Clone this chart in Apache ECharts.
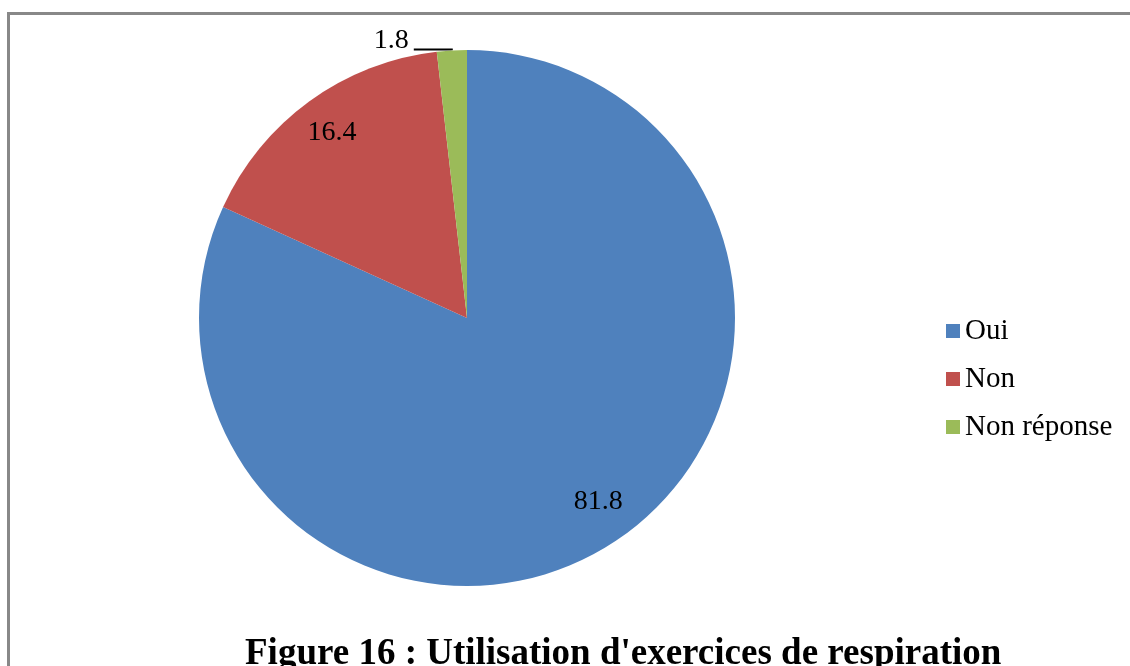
<!doctype html>
<html>
<head>
    <meta charset="utf-8">
    <title>Figure 16</title>
    <script src="https://cdn.jsdelivr.net/npm/echarts@6/dist/echarts.min.js"></script>
    <style>
        html, body {
            margin: 0;
            padding: 0;
            background: #ffffff;
        }

        #chart {
            width: 1130px;
            height: 666px;
        }
    </style>
</head>
<body>
    <div id="chart"></div>

    <script type="text/javascript">
        // données
        var categories = ['Oui', 'Non', 'Non réponse'];
        var values = [81.8, 16.4, 1.8];
        var colors = ['#4F81BD', '#C0504D', '#9BBB59'];
        var titleText = "Figure 16 : Utilisation d'exercices de respiration";

        var serif = '"Liberation Serif", "Times New Roman", serif';

        var pieData = categories.map(function(name, i) {
            return {
                name: name,
                value: values[i],
                itemStyle: { color: colors[i] }
            };
        });

        // anneau transparent, seulement pour placer les étiquettes
        var labelData = categories.map(function(name, i) {
            var item = {
                name: name,
                value: values[i]
            };
            if (i == 0) {
                item.label = { offset: [7, -9] };
            }
            if (i == 2) {
                // ligne vide en dessous pour remonter le texte au-dessus du trait
                item.label = {
                    position: 'outside',
                    formatter: '{c}\n ',
                    lineHeight: 18
                };
                item.labelLine = {
                    show: true,
                    length: 1,
                    length2: 38,
                    lineStyle: { color: '#000', width: 2 }
                };
            }
            return item;
        });

        var myChart = echarts.init(document.getElementById('chart'));

        var option = {
            backgroundColor: '#ffffff',
            animation: false,
            title: {
                text: titleText,
                left: 245,
                top: 636,
                padding: 0,
                textStyle: {
                    fontFamily: serif,
                    fontSize: 37,
                    fontWeight: 'bold',
                    color: '#000'
                }
            },
            legend: {
                orient: 'vertical',
                left: 946,
                top: 316,
                padding: 0,
                icon: 'rect',
                itemWidth: 14,
                itemHeight: 14,
                itemGap: 18,
                data: categories,
                textStyle: {
                    fontFamily: serif,
                    fontSize: 29,
                    lineHeight: 30,
                    color: '#000'
                }
            },
            graphic: [{
                type: 'rect',
                silent: true,
                shape: { x: 8.5, y: 13.5, width: 1400, height: 900 },
                style: { fill: 'none', stroke: '#888888', lineWidth: 3 }
            }],
            series: [{
                name: 'parts',
                type: 'pie',
                center: [467, 318],
                radius: [0, 268],
                startAngle: 90,
                clockwise: true,
                label: { show: false },
                labelLine: { show: false },
                itemStyle: { borderWidth: 0 },
                emphasis: { disabled: true },
                data: pieData
            }, {
                name: 'etiquettes',
                type: 'pie',
                silent: true,
                center: [467, 318],
                radius: [185, 268],
                startAngle: 90,
                clockwise: true,
                avoidLabelOverlap: false,
                itemStyle: { color: 'rgba(0,0,0,0)', borderWidth: 0 },
                label: {
                    show: true,
                    position: 'inside',
                    formatter: '{c}',
                    fontFamily: serif,
                    fontSize: 28,
                    color: '#000'
                },
                labelLine: { show: false },
                emphasis: { disabled: true },
                data: labelData
            }]
        };

        myChart.setOption(option);
    </script>
</body>
</html>
